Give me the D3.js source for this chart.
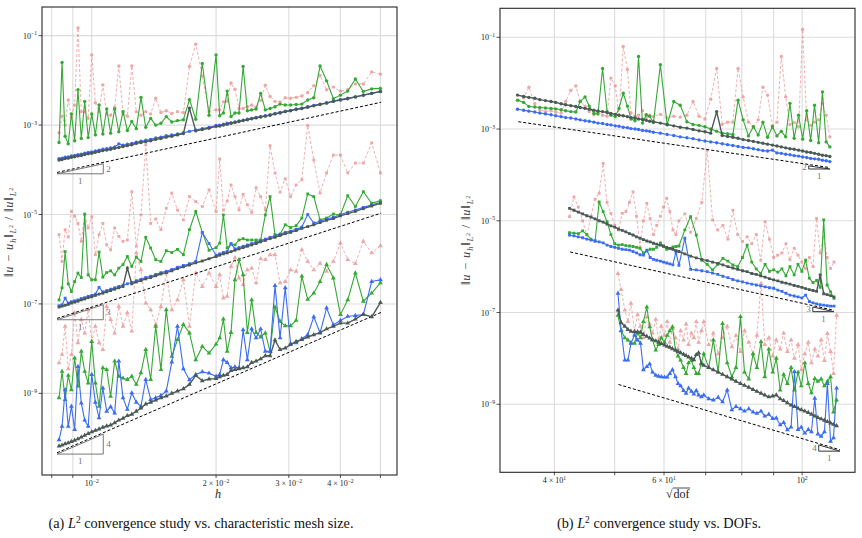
<!DOCTYPE html>
<html><head><meta charset="utf-8">
<script src="https://cdn.jsdelivr.net/npm/d3@7"></script>
<style>body{margin:0;background:#fff} text{font-family:"Liberation Serif","DejaVu Serif",serif}</style>
</head><body>
<svg id="c" width="862" height="538"></svg>
<script>
// ---------------- data ----------------
// mesh resolution N (h = 1/N)
const meshN = [20,21,22,23,24,25,26,27,28,29,30,31,32,33,34,35,36,37,38,39,40,41,42,43,44,45,46,47,48,49,50,
  52,54,56,58,60,62,64,66,68,70,72,74,76,78,80,82,84,86,88,90,92,94,96,98,100,102,104,106,108,110,112,114,116,118,120];
// sqrt(dof) per polynomial degree (right panel)
const sqrtDofP1 = [34.9,35.7,36.4,37.2,37.9,38.7,39.5,40.2,41.0,41.7,42.5,43.3,44.0,44.8,45.5,46.3,47.0,47.8,48.6,49.3,50.1,50.8,51.6,52.4,53.1,53.9,54.6,55.4,56.2,56.9,57.7,
  59.2,60.7,62.2,63.7,65.3,66.8,68.3,69.8,71.3,72.9,74.4,75.9,77.4,78.9,80.4,82.0,83.5,85.0,86.5,88.0,89.6,91.1,92.6,94.1,95.6,97.1,98.7,100.2,101.7,103.2,104.7,106.3,107.8,109.3,110.8];
const sqrtDofP2 = [42.3,43.0,43.7,44.4,45.1,45.8,46.5,47.2,47.9,48.6,49.3,50.0,50.7,51.4,52.1,52.8,53.5,54.2,54.9,55.6,56.3,57.0,57.7,58.4,59.2,59.9,60.6,61.3,62.0,62.7,63.4,
  64.8,66.2,67.6,69.0,70.4,71.8,73.2,74.6,76.0,77.4,78.8,80.2,81.6,83.0,84.4,85.8,87.2,88.6,90.0,91.4,92.8,94.2,95.6,97.1,98.5,99.9,101.3,102.7,104.1,105.5,106.9,108.3,109.7,111.1,112.5];
const sqrtDofP3 = [50.6,51.2,51.9,52.5,53.1,53.8,54.4,55.0,55.6,56.3,56.9,57.5,58.2,58.8,59.4,60.1,60.7,61.3,61.9,62.6,63.2,63.8,64.5,65.1,65.7,66.4,67.0,67.6,68.2,68.9,69.5,
  70.8,72.0,73.3,74.5,75.8,77.1,78.3,79.6,80.8,82.1,83.4,84.6,85.9,87.1,88.4,89.7,90.9,92.2,93.4,94.7,96.0,97.2,98.5,99.7,101.0,102.3,103.5,104.8,106.0,107.3,108.6,109.8,111.1,112.3,113.6];

// log10 of relative L2 error, panel (a) vs h
const logErrH_P1_dark = [-2.25,-2.29,-2.33,-2.37,-2.41,-2.44,-2.47,-2.51,-2.54,-2.57,-2.60,-2.63,-2.65,-2.68,-2.70,-2.73,-2.75,-2.78,-2.80,-2.82,-2.84,-2.86,-2.88,-2.90,-2.92,-2.94,-2.96,-2.98,-3.00,-3.02,-3.03,
  -3.07,-3.10,-3.13,-2.62,-3.19,-3.22,-3.25,-3.27,-3.30,-3.32,-3.35,-3.37,-3.39,-3.41,-3.44,-3.46,-3.48,-3.50,-3.52,-3.54,-3.56,-3.57,-3.59,-3.61,-3.63,-3.64,-3.66,-3.68,-3.69,-3.71,-3.72,-3.74,-3.75,-3.77,-3.78];
const logErrH_P1_blue = [-2.25,-2.29,-2.33,-2.37,-2.40,-2.43,-2.46,-2.50,-2.53,-2.56,-2.59,-2.62,-2.64,-2.67,-2.69,-2.72,-2.74,-2.77,-2.79,-2.81,-2.83,-2.85,-2.87,-2.89,-2.91,-2.93,-2.95,-2.96,-2.98,-3.00,-3.01,
  -3.05,-3.08,-3.11,-3.14,-3.17,-3.20,-3.22,-3.24,-3.27,-3.29,-3.32,-3.34,-3.36,-3.38,-3.41,-3.43,-3.45,-3.42,-3.49,-3.51,-3.53,-3.54,-3.56,-3.58,-3.60,-3.61,-3.63,-3.65,-3.66,-3.68,-3.69,-3.71,-3.72,-3.74,-3.75];
const logErrH_P1_green = [-2.18,-2.19,-2.25,-1.97,-2.24,-2.33,-2.41,-2.01,-1.68,-2.39,-2.44,-2.53,-2.54,-2.55,-2.55,-2.53,-2.59,-2.63,-2.66,-2.29,-2.64,-2.66,-2.68,-1.69,-2.73,-2.73,-2.81,-2.24,-2.73,-2.79,-1.43,
  -2.78,-1.62,-2.87,-2.43,-2.88,-2.90,-2.93,-2.81,-2.96,-3.00,-2.85,-3.05,-2.38,-3.08,-2.92,-3.12,-2.70,-3.15,-2.64,-3.18,-2.64,-3.20,-2.55,-3.22,-2.75,-3.28,-2.47,-3.30,-2.21,-3.35,-2.75,-3.42,-3.25,-1.60,-3.39];
const logErrH_P1_red = [-1.86,-1.81,-2.08,-2.08,-2.21,-2.24,-2.15,-2.21,-1.89,-2.12,-2.27,-2.35,-2.38,-2.40,-2.39,-2.48,-2.47,-2.36,-2.11,-2.45,-2.60,-2.55,-2.59,-2.63,-2.63,-2.20,-2.06,-2.47,-2.48,-2.66,-2.66,
  -2.70,-1.90,-1.19,-1.69,-2.72,-2.70,-2.74,-2.68,-2.72,-2.40,-2.75,-2.70,-2.78,-2.70,-1.68,-2.80,-2.75,-1.68,-2.60,-2.78,-2.75,-2.10,-2.70,-2.50,-1.43,-2.85,-2.70,-2.70,-0.83,-2.55,-2.82,-2.44,-3.00,-2.80,-3.17];

const logErrH_P2_dark = [-4.75,-4.81,-4.87,-4.93,-4.98,-5.03,-5.09,-5.13,-5.18,-5.23,-5.27,-5.31,-5.36,-5.40,-5.43,-5.47,-5.51,-5.54,-5.58,-5.61,-5.65,-5.68,-5.71,-5.74,-5.77,-5.80,-5.83,-5.86,-5.88,-5.91,-5.94,
  -5.99,-6.04,-6.08,-6.13,-6.17,-6.21,-6.26,-6.30,-6.33,-6.37,-6.41,-6.44,-6.48,-6.51,-6.55,-6.20,-6.61,-6.64,-6.67,-6.70,-6.73,-6.76,-6.78,-6.81,-6.84,-6.86,-6.89,-6.91,-6.94,-6.96,-6.98,-7.01,-7.03,-7.05,-7.07];
const logErrH_P2_blue = [-4.73,-4.78,-4.84,-4.90,-4.95,-5.00,-5.06,-5.10,-5.15,-5.19,-5.00,-5.28,-5.33,-5.37,-5.40,-5.44,-5.48,-5.51,-5.55,-5.58,-5.62,-5.65,-5.68,-5.71,-5.74,-5.77,-5.65,-5.83,-5.85,-5.88,-5.91,
  -5.65,-5.40,-6.05,-6.10,-6.14,-6.18,-6.23,-6.27,-6.30,-6.34,-6.38,-6.41,-6.45,-6.48,-6.52,-6.55,-6.58,-6.61,-6.64,-6.67,-6.70,-6.73,-6.63,-6.78,-6.81,-6.83,-6.86,-6.88,-6.91,-6.93,-6.95,-6.98,-6.87,-7.02,-7.04];
const logErrH_P2_green = [-4.69,-4.75,-4.49,-4.82,-4.58,-5.01,-4.99,-5.08,-5.12,-4.60,-4.54,-5.08,-5.25,-5.29,-5.23,-5.44,-5.45,-4.60,-5.01,-5.57,-5.57,-5.57,-5.57,-5.54,-5.57,-5.68,-5.66,-5.75,-5.01,-5.64,-5.74,
  -5.80,-5.40,-4.93,-5.34,-5.90,-5.78,-5.85,-5.81,-6.05,-6.01,-5.75,-5.51,-6.05,-5.95,-6.16,-5.94,-6.12,-6.20,-6.35,-6.26,-6.30,-6.40,-5.84,-6.46,-6.46,-6.35,-4.99,-6.41,-6.31,-6.50,-6.72,-6.55,-5.83,-6.64,-6.91];
const logErrH_P2_red = [-4.07,-3.40,-3.85,-3.85,-4.07,-3.67,-3.67,-4.07,-4.52,-3.78,-3.01,-4.22,-4.34,-4.60,-4.20,-4.50,-4.07,-3.46,-4.90,-4.60,-4.40,-4.95,-4.78,-4.55,-4.90,-4.60,-4.34,-4.70,-4.90,-3.76,-4.93,
  -4.45,-4.82,-4.71,-4.60,-5.12,-4.90,-4.52,-4.86,-5.34,-5.10,-5.20,-3.44,-5.01,-5.71,-4.49,-5.57,-5.60,-5.49,-5.30,-5.79,-5.68,-5.20,-5.45,-5.90,-5.05,-5.30,-5.01,-5.60,-5.20,-5.04,-4.93,-5.50,-5.34,-6.05,-5.45];

const logErrH_P3_dark = [-6.97,-7.29,-7.23,-7.34,-7.43,-7.43,-7.50,-7.56,-7.64,-7.69,-7.74,-7.80,-7.84,-7.91,-7.99,-8.02,-7.81,-8.16,-8.16,-8.23,-8.28,-8.31,-8.41,-8.43,-8.45,-8.47,-8.49,-8.58,-8.60,-8.63,-8.67,
  -8.68,-8.72,-8.60,-8.80,-8.90,-8.95,-9.00,-9.06,-9.10,-9.15,-9.20,-9.24,-9.33,-9.40,-9.47,-9.50,-9.56,-9.60,-9.66,-9.71,-9.73,-9.76,-9.80,-9.83,-9.86,-9.90,-9.94,-9.98,-10.02,-10.05,-10.08,-10.11,-10.13,-10.16,-10.18];
const logErrH_P3_blue = [-6.46,-6.50,-7.24,-7.26,-7.28,-7.37,-7.47,-7.09,-7.65,-7.29,-7.69,-7.78,-7.87,-7.89,-6.64,-7.76,-6.59,-8.06,-8.06,-7.56,-7.76,-7.56,-8.25,-7.58,-8.43,-8.41,-8.43,-8.31,-8.25,-8.58,-8.62,
  -8.55,-8.52,-8.58,-8.70,-8.45,-7.50,-8.30,-8.95,-9.05,-9.10,-9.14,-8.69,-9.29,-9.20,-8.99,-9.36,-9.10,-8.28,-9.44,-9.30,-9.40,-8.88,-9.55,-9.20,-8.58,-9.74,-9.60,-9.22,-8.40,-9.81,-9.29,-9.74,-8.92,-9.74,-10.04];
const logErrH_P3_green = [-6.53,-6.76,-6.94,-6.31,-6.91,-7.24,-6.42,-6.12,-6.50,-6.76,-6.90,-6.38,-7.37,-7.49,-7.49,-7.39,-7.07,-8.06,-7.65,-7.74,-7.64,-6.91,-7.64,-6.35,-6.01,-6.46,-7.64,-8.06,-7.34,-7.76,-7.90,
  -8.10,-7.95,-8.25,-7.65,-7.46,-7.80,-8.17,-7.13,-8.47,-7.50,-8.69,-8.02,-8.54,-8.80,-8.62,-8.69,-8.66,-8.62,-8.28,-9.07,-8.47,-8.43,-9.29,-8.77,-7.84,-8.77,-8.51,-8.06,-8.84,-8.21,-8.92,-8.60,-9.14,-8.51,-9.10];
const logErrH_P3_red = [-5.70,-5.86,-5.60,-6.10,-6.01,-5.64,-6.05,-6.27,-6.09,-6.24,-6.05,-5.79,-6.27,-6.24,-6.50,-6.53,-5.90,-5.90,-6.01,-5.99,-6.53,-6.20,-6.24,-6.57,-6.42,-5.97,-6.16,-6.83,-6.87,-6.35,-6.61,
  -6.31,-6.61,-6.31,-7.50,-6.46,-6.91,-7.13,-6.31,-7.06,-7.46,-7.13,-6.98,-6.24,-5.86,-7.61,-7.20,-7.50,-7.06,-7.65,-7.35,-7.06,-8.02,-7.87,-7.50,-7.84,-7.13,-7.65,-7.35,-7.87,-7.20,-8.13,-8.45,-7.50,-8.13,-8.32];

// log10 of relative L2 error, panel (b) vs sqrt(dof)
const logErrD_P1_dark = [-2.26,-2.29,-2.31,-2.33,-2.36,-2.38,-2.40,-2.42,-2.45,-2.47,-2.49,-2.51,-2.53,-2.55,-2.57,-2.59,-2.61,-2.62,-2.64,-2.66,-2.68,-2.70,-2.71,-2.73,-2.75,-2.76,-2.78,-2.79,-2.81,-2.83,-2.84,
  -2.87,-2.90,-2.93,-2.96,-2.98,-3.01,-3.04,-3.06,-3.09,-2.62,-3.14,-3.16,-3.18,-3.20,-3.23,-3.25,-3.27,-3.29,-3.31,-3.33,-3.35,-3.37,-3.39,-3.41,-3.43,-3.44,-3.46,-3.48,-3.50,-3.51,-3.53,-3.55,-3.57,-3.58,-3.60];
const logErrD_P1_blue = [-2.57,-2.59,-2.61,-2.63,-2.65,-2.67,-2.69,-2.71,-2.73,-2.75,-2.76,-2.78,-2.80,-2.82,-2.83,-2.85,-2.87,-2.88,-2.90,-2.91,-2.93,-2.94,-2.96,-2.97,-2.99,-3.00,-3.01,-3.03,-3.04,-3.05,-3.07,
  -3.09,-3.12,-3.14,-3.17,-3.19,-3.21,-3.24,-3.26,-3.28,-3.30,-3.32,-3.34,-3.36,-3.38,-3.40,-3.41,-3.43,-3.45,-3.47,-3.48,-3.46,-3.52,-3.53,-3.55,-3.56,-3.58,-3.59,-3.61,-3.62,-3.64,-3.65,-3.66,-3.68,-3.69,-3.71];
const logErrD_P1_green = [-2.37,-2.42,-2.51,-2.52,-2.53,-2.54,-2.55,-2.56,-2.58,-2.60,-2.62,-2.63,-2.40,-2.30,-2.50,-2.66,-2.67,-1.68,-2.62,-2.70,-2.73,-2.55,-2.22,-2.50,-2.78,-2.82,-1.42,-2.87,-2.69,-2.72,-2.86,
  -1.60,-2.91,-2.40,-2.48,-2.84,-2.90,-2.92,-2.95,-3.00,-3.05,-3.09,-3.10,-3.12,-2.37,-2.80,-3.15,-2.95,-3.13,-2.85,-3.18,-2.95,-3.15,-3.05,-3.17,-2.44,-3.20,-2.70,-3.22,-2.60,-3.25,-2.48,-3.30,-2.19,-3.28,-3.39];
const logErrD_P1_red = [-2.38,-2.32,-2.09,-2.45,-2.58,-2.62,-2.60,-2.63,-2.65,-2.40,-2.16,-2.06,-2.40,-2.50,-2.62,-2.69,-2.60,-2.70,-2.72,-1.89,-2.06,-2.70,-1.20,-1.70,-2.65,-2.72,-2.70,-2.60,-2.75,-2.70,-2.73,
  -2.68,-2.76,-2.72,-2.74,-2.70,-2.40,-2.72,-2.78,-2.35,-1.68,-2.90,-2.85,-2.85,-1.68,-2.30,-2.85,-2.95,-2.80,-2.09,-2.26,-2.92,-2.85,-1.42,-2.30,-2.90,-2.86,-2.95,-0.83,-2.80,-2.92,-2.85,-2.80,-2.44,-2.70,-3.17];

const logErrD_P2_dark = [-4.73,-4.77,-4.81,-4.85,-4.89,-4.92,-4.96,-5.00,-5.03,-5.07,-5.11,-5.14,-5.18,-5.21,-5.24,-5.28,-5.31,-5.35,-5.38,-5.41,-5.44,-5.46,-5.49,-5.51,-5.53,-5.55,-5.58,-5.60,-5.62,-5.65,-5.67,
  -5.72,-5.77,-5.81,-5.84,-5.87,-5.90,-5.93,-5.96,-6.00,-6.03,-6.06,-6.09,-6.11,-6.15,-6.17,-6.20,-6.23,-6.26,-6.29,-6.31,-6.34,-6.36,-6.38,-6.41,-6.43,-6.45,-6.48,-6.50,-6.52,-6.54,-6.18,-6.59,-6.61,-6.63,-6.66];
const logErrD_P2_blue = [-5.31,-5.33,-5.35,-5.37,-5.40,-5.42,-5.44,-5.46,-5.48,-5.53,-5.56,-5.58,-5.60,-5.62,-5.63,-5.64,-5.67,-5.70,-5.74,-5.75,-5.64,-5.80,-5.84,-5.86,-5.88,-5.90,-5.92,-5.94,-5.96,-5.68,-5.97,
  -5.38,-6.06,-6.07,-6.09,-6.11,-6.14,-6.17,-6.21,-6.24,-6.28,-6.31,-6.33,-6.36,-6.38,-6.40,-6.42,-6.44,-6.46,-6.47,-6.51,-6.54,-6.58,-6.62,-6.64,-6.66,-6.68,-6.62,-6.76,-6.79,-6.81,-6.83,-6.84,-6.85,-6.86,-6.86];
const logErrD_P2_green = [-5.26,-5.27,-5.28,-5.22,-5.30,-5.40,-5.44,-4.59,-4.80,-5.02,-5.30,-5.50,-5.53,-5.52,-5.54,-5.55,-5.56,-5.58,-5.60,-5.70,-5.66,-5.62,-5.62,-5.58,-5.48,-5.56,-5.62,-5.60,-5.57,-5.56,-5.55,
  -5.20,-4.91,-5.31,-5.86,-5.95,-6.07,-5.95,-5.82,-5.88,-5.96,-6.00,-5.80,-5.53,-5.90,-6.05,-6.15,-5.95,-6.10,-6.07,-6.12,-6.05,-6.20,-6.00,-6.18,-5.95,-6.10,-5.86,-6.25,-6.35,-6.30,-6.45,-4.98,-6.40,-6.55,-6.69];
const logErrD_P2_red = [-4.91,-4.48,-4.70,-5.00,-5.31,-4.90,-4.53,-4.40,-3.75,-4.60,-4.84,-5.10,-5.20,-4.84,-4.80,-4.60,-4.37,-4.90,-5.57,-5.00,-4.62,-4.95,-5.30,-5.10,-4.90,-4.70,-4.51,-4.80,-5.20,-5.30,-5.00,
  -4.85,-5.25,-4.95,-4.60,-3.46,-4.98,-5.20,-5.10,-5.40,-4.77,-5.30,-5.45,-5.35,-5.50,-5.30,-5.86,-5.02,-5.40,-5.80,-5.75,-5.70,-5.50,-5.85,-5.60,-5.75,-5.90,-6.04,-5.80,-6.00,-4.95,-5.70,-5.35,-5.80,-6.04,-5.90];

const logErrD_P3_dark = [-6.95,-7.22,-7.30,-7.37,-7.41,-7.42,-7.42,-7.43,-7.48,-7.52,-7.56,-7.59,-7.62,-7.65,-7.68,-7.71,-7.74,-7.76,-7.79,-7.82,-7.85,-7.88,-7.91,-7.94,-7.97,-8.00,-8.03,-7.92,-7.88,-8.12,-8.15,
  -8.20,-8.25,-8.30,-8.35,-8.40,-8.45,-8.50,-8.55,-8.59,-8.63,-8.68,-8.72,-8.76,-8.80,-8.84,-8.82,-8.80,-8.88,-8.92,-8.97,-9.02,-9.05,-9.09,-9.12,-9.15,-9.18,-9.22,-9.26,-9.29,-9.32,-9.35,-9.38,-9.41,-9.44,-9.47];
const logErrD_P3_blue = [-6.58,-7.39,-8.04,-8.04,-7.67,-7.49,-7.60,-7.67,-8.25,-8.18,-8.12,-8.30,-8.37,-8.39,-8.40,-8.41,-8.41,-8.33,-8.25,-8.40,-8.55,-8.60,-8.70,-8.76,-8.65,-8.72,-8.78,-8.70,-8.80,-8.84,-8.80,
  -8.88,-8.91,-8.85,-8.95,-8.69,-9.12,-9.05,-9.10,-9.15,-9.10,-9.17,-9.20,-9.15,-9.26,-9.22,-9.31,-9.30,-9.45,-9.40,-9.56,-9.50,-8.29,-9.55,-9.50,-9.63,-9.55,-9.60,-8.87,-9.65,-9.70,-9.60,-8.55,-9.81,-9.73,-8.65];
const logErrD_P3_green = [-7.06,-7.40,-7.55,-7.60,-7.66,-7.67,-7.45,-7.55,-7.20,-6.88,-7.31,-7.60,-7.82,-7.70,-7.55,-7.65,-7.50,-7.40,-7.31,-7.82,-7.95,-8.04,-8.20,-8.33,-8.10,-8.05,-8.20,-8.33,-8.33,-8.10,-7.90,
  -8.20,-7.60,-8.30,-7.24,-8.10,-8.40,-8.20,-7.09,-8.30,-8.45,-7.90,-8.20,-7.64,-8.40,-7.80,-8.30,-8.00,-8.69,-8.35,-8.55,-8.20,-8.69,-8.30,-8.60,-8.10,-8.55,-8.75,-8.44,-8.50,-8.45,-8.60,-8.50,-8.40,-9.17,-8.91];
const logErrD_P3_red = [-6.15,-6.50,-6.95,-7.20,-6.80,-7.40,-7.05,-7.30,-7.55,-7.10,-7.25,-7.45,-7.15,-7.60,-7.30,-7.50,-7.20,-7.65,-7.35,-7.55,-7.80,-7.40,-7.60,-7.25,-7.70,-7.45,-7.55,-7.20,-7.65,-7.40,-7.20,
  -7.70,-7.45,-7.90,-7.55,-7.30,-7.75,-7.50,-7.85,-7.40,-7.65,-7.90,-7.50,-6.37,-7.70,-7.55,-7.95,-7.60,-7.80,-7.45,-7.85,-7.60,-8.00,-7.70,-8.25,-7.90,-7.65,-8.10,-7.80,-7.95,-7.60,-8.05,-7.46,-7.85,-8.33,-7.06];

// reference slopes
const refOrders = [2, 3, 4];
const refLogConstH = [0.109, -1.0715, -1.992];       // log10 err = c + p*log10(h)
const refRangeH = [0.00824, 0.0502];
const refLogConstD = [0.248, -0.798, -1.749];        // log10 err = c - p*log10(sqrt dof)
const refRangeD = [[35.0, 110.8], [42.4, 112.5], [50.7, 115.0]];

// axis ticks
const yGridVals = [1e-1, 1e-3, 1e-5, 1e-7, 1e-9];
const yTickExp = ["−1", "−3", "−5", "−7", "−9"];
const xGridH = [0.008, 0.009, 0.01, 0.02, 0.03, 0.04, 0.05];
const xLabelsH = [[0.01, "10", "−2"], [0.02, "2 × 10", "−2"], [0.03, "3 × 10", "−2"], [0.04, "4 × 10", "−2"]];
const xGridD = [40, 50, 60, 70, 80, 90, 100];
const xLabelsD = [[40, "4 × 10", "1"], [60, "6 × 10", "1"], [100, "10", "2"]];

// ---------------- drawing ----------------
const COL = {dark: "#4b5a56", blue: "#3a6cf4", green: "#35a835", red: "#e88a8a"};
const svg = d3.select("#c");

const setsH = [
  {dark: logErrH_P1_dark, blue: logErrH_P1_blue, green: logErrH_P1_green, red: logErrH_P1_red},
  {dark: logErrH_P2_dark, blue: logErrH_P2_blue, green: logErrH_P2_green, red: logErrH_P2_red},
  {dark: logErrH_P3_dark, blue: logErrH_P3_blue, green: logErrH_P3_green, red: logErrH_P3_red}];
const setsD = [
  {dark: logErrD_P1_dark, blue: logErrD_P1_blue, green: logErrD_P1_green, red: logErrD_P1_red},
  {dark: logErrD_P2_dark, blue: logErrD_P2_blue, green: logErrD_P2_green, red: logErrD_P2_red},
  {dark: logErrD_P3_dark, blue: logErrD_P3_blue, green: logErrD_P3_green, red: logErrD_P3_red}];
const symTypes = [d3.symbolCircle, d3.symbolSquare, d3.symbolTriangle];
const symSizes = [9, 8, 10];

function mathText(g, x, y, base, exp, anchor, fs) {
  const t = g.append("text").attr("x", x).attr("y", y).attr("text-anchor", anchor)
    .attr("font-size", fs).attr("fill", "#222");
  t.append("tspan").text(base);
  t.append("tspan").attr("font-size", fs * 0.7).attr("dy", -fs * 0.42).text(exp);
  return t;
}

function panel(cfg) {
  const g = svg.append("g");
  const x = d3.scaleLog().domain(cfg.xDomain).range([cfg.x0, cfg.x1]);
  const y = d3.scaleLog().domain(cfg.yDomain).range([cfg.y1, cfg.y0]);
  const clipId = "clip" + cfg.id;
  svg.append("clipPath").attr("id", clipId).append("rect")
    .attr("x", cfg.x0).attr("y", cfg.y0).attr("width", cfg.x1 - cfg.x0).attr("height", cfg.y1 - cfg.y0);

  // grid
  const grid = g.append("g").attr("stroke", "#dcdcdc").attr("stroke-width", 1.1);
  cfg.xGrid.forEach(v => grid.append("line").attr("x1", x(v)).attr("x2", x(v)).attr("y1", cfg.y0).attr("y2", cfg.y1));
  yGridVals.forEach(v => grid.append("line").attr("y1", y(v)).attr("y2", y(v)).attr("x1", cfg.x0).attr("x2", cfg.x1));

  const plot = g.append("g").attr("clip-path", `url(#${clipId})`);
  const line = d3.line().x(d => x(d[0])).y(d => y(d[1]));

  function series(gi, key, opts) {
    const vals = cfg.sets[gi][key];
    const xs = cfg.xVals(gi);
    const pts = vals.map((v, i) => [xs[i], Math.pow(10, v)]).filter(d => d[0] !== undefined && !isNaN(d[1]));
    const s = plot.append("g").attr("opacity", opts.opacity || 1);
    s.append("path").attr("d", line(pts)).attr("fill", "none").attr("stroke", COL[key])
      .attr("stroke-width", opts.width).attr("stroke-dasharray", opts.dash || null);
    s.selectAll("path.m").data(pts).join("path").attr("class", "m")
      .attr("transform", d => `translate(${x(d[0])},${y(d[1])})`)
      .attr("d", d3.symbol().type(symTypes[gi]).size(symSizes[gi]))
      .attr("fill", COL[key]);
  }
  [0, 1, 2].forEach(gi => series(gi, "red", {width: 0.9, dash: "3,2", opacity: 0.75}));
  // reference lines
  refOrders.forEach((p, k) => {
    const r = cfg.refRange(k);
    const pts = r.map(v => [v, Math.pow(10, cfg.refLog(k, v))]);
    plot.append("path").attr("d", line(pts)).attr("fill", "none").attr("stroke", "#000")
      .attr("stroke-width", 1).attr("stroke-dasharray", "3,2");
  });
  [0, 1, 2].forEach(gi => series(gi, "green", {width: 1.1}));
  [0, 1, 2].forEach(gi => series(gi, "blue", {width: 1.1}));
  [0, 1, 2].forEach(gi => series(gi, "dark", {width: 1.4}));

  // slope triangles
  refOrders.forEach((p, k) => cfg.triangle(g, x, y, p, k));

  // frame
  g.append("rect").attr("x", cfg.x0).attr("y", cfg.y0).attr("width", cfg.x1 - cfg.x0).attr("height", cfg.y1 - cfg.y0)
    .attr("fill", "none").attr("stroke", "#262626").attr("stroke-width", 1.1);
  // ticks
  const tk = g.append("g").attr("stroke", "#262626").attr("stroke-width", 0.8);
  yGridVals.forEach(v => tk.append("line").attr("x1", cfg.x0 - 3.5).attr("x2", cfg.x0).attr("y1", y(v)).attr("y2", y(v)));
  cfg.xGrid.forEach(v => tk.append("line").attr("y1", cfg.y1).attr("y2", cfg.y1 + 3).attr("x1", x(v)).attr("x2", x(v)));
  yGridVals.forEach((v, i) => mathText(g, cfg.x0 - 5, y(v) + 3, "10", yTickExp[i], "end", 8));
  cfg.xLabels.forEach(d => mathText(g, x(d[0]), cfg.y1 + 11, d[1], d[2], "middle", 8));
  return {x, y};
}

function yLabel(cx, cy) {
  const t = svg.append("text").attr("transform", `translate(${cx},${cy}) rotate(-90)`)
    .attr("text-anchor", "middle").attr("font-size", 12.5).attr("letter-spacing", 0.8).attr("fill", "#444");
  t.append("tspan").text("‖");
  t.append("tspan").attr("font-style", "italic").text("u");
  t.append("tspan").text(" − ");
  t.append("tspan").attr("font-style", "italic").text("u");
  t.append("tspan").attr("font-style", "italic").attr("font-size", 8.5).attr("dy", 2.5).text("h");
  t.append("tspan").attr("dy", -2.5).text("‖");
  t.append("tspan").attr("font-style", "italic").attr("font-size", 8.5).attr("dy", 3).text("L");
  t.append("tspan").attr("font-size", 6).attr("dy", -3.5).text("2");
  t.append("tspan").attr("dy", 0.5).text(" / ‖");
  t.append("tspan").attr("font-style", "italic").text("u");
  t.append("tspan").text("‖");
  t.append("tspan").attr("font-style", "italic").attr("font-size", 8.5).attr("dy", 3).text("L");
  t.append("tspan").attr("font-size", 6).attr("dy", -3.5).text("2");
}

function caption(cx, cy, tag, rest) {
  const t = svg.append("text").attr("x", cx).attr("y", cy).attr("text-anchor", "middle")
    .attr("font-size", 14.3).attr("fill", "#111");
  t.append("tspan").text(tag + " ");
  t.append("tspan").attr("font-style", "italic").text("L");
  t.append("tspan").attr("font-size", 9.5).attr("dy", -5.5).text("2");
  t.append("tspan").attr("dy", 5.5).text(" " + rest);
}

// left panel
panel({
  id: "a", x0: 42, x1: 397, y0: 7, y1: 475,
  xDomain: [0.007578, 0.05484], yDomain: [Math.pow(10, -10.826), Math.pow(10, -0.359)],
  xGrid: xGridH, xLabels: xLabelsH, sets: setsH,
  xVals: gi => meshN.map(n => 1 / n),
  refRange: k => refRangeH,
  refLog: (k, h) => refLogConstH[k] + refOrders[k] * Math.log10(h),
  triangle: (g, x, y, p, k) => {
    const h0 = refRangeH[0], w = 0.112;
    const v0 = refLogConstH[k] + p * Math.log10(h0) - 0.03;
    const h1 = h0 * Math.pow(10, w), v1 = v0 + p * w;
    const P = [[h0, v0], [h1, v0], [h1, v1]].map(d => [x(d[0]), y(Math.pow(10, d[1]))]);
    g.append("path").attr("d", "M" + P.join("L") + "Z").attr("fill", "none").attr("stroke", "#777").attr("stroke-width", 1);
    g.append("text").attr("x", P[1][0] + 3).attr("y", (P[1][1] + P[2][1]) / 2 + 3).attr("font-size", 9).attr("fill", "#777").text(p);
    g.append("text").attr("x", (P[0][0] + P[1][0]) / 2).attr("y", P[0][1] + 10).attr("text-anchor", "middle").attr("font-size", 9).attr("fill", "#777").text("1");
  }
});
// right panel
const dofX = [sqrtDofP1, sqrtDofP2, sqrtDofP3];
panel({
  id: "b", x0: 500, x1: 855, y0: 8.3, y1: 472.3,
  xDomain: [32.71, 121.6], yDomain: [Math.pow(10, -10.483), Math.pow(10, -0.368)],
  xGrid: xGridD, xLabels: xLabelsD, sets: setsD,
  xVals: gi => dofX[gi],
  refRange: k => refRangeD[k],
  refLog: (k, s) => refLogConstD[k] - refOrders[k] * Math.log10(s),
  triangle: (g, x, y, p, k) => {
    const s1 = refRangeD[k][1], w = 0.034;
    const v1 = refLogConstD[k] - p * Math.log10(s1) - 0.03;
    const s0 = s1 / Math.pow(10, w), v0 = v1 + p * w;
    const P = [[s0, v0], [s0, v1], [s1, v1]].map(d => [x(d[0]), y(Math.pow(10, d[1]))]);
    g.append("path").attr("d", "M" + P.join("L") + "Z").attr("fill", "none").attr("stroke", "#333").attr("stroke-width", 1);
    g.append("text").attr("x", P[0][0] - 2).attr("y", (P[0][1] + P[1][1]) / 2 + 3).attr("text-anchor", "end").attr("font-size", 9).attr("fill", "#777").text(p);
    g.append("text").attr("x", (P[1][0] + P[2][0]) / 2).attr("y", P[1][1] + 10).attr("text-anchor", "middle").attr("font-size", 9).attr("fill", "#777").text("1");
  }
});

yLabel(13, 232);
yLabel(470, 240);
svg.append("text").attr("x", 218).attr("y", 498).attr("text-anchor", "middle").attr("font-size", 12)
  .attr("font-style", "italic").attr("fill", "#222").text("h");
// sqrt(dof) label
const sq = svg.append("g");
sq.append("text").attr("x", 666).attr("y", 498).attr("font-size", 12).attr("fill", "#222").text("√");
const dofT = sq.append("text").attr("x", 673.5).attr("y", 498).attr("font-size", 12).attr("fill", "#222").text("dof");
const bb = dofT.node().getBBox();
sq.append("line").attr("x1", 673).attr("x2", bb.x + bb.width + 0.5).attr("y1", bb.y + 1).attr("y2", bb.y + 1)
  .attr("stroke", "#222").attr("stroke-width", 0.8);

caption(201, 528, "(a)", "convergence study vs. characteristic mesh size.");
caption(659, 528, "(b)", "convergence study vs. DOFs.");
</script>
</body></html>
